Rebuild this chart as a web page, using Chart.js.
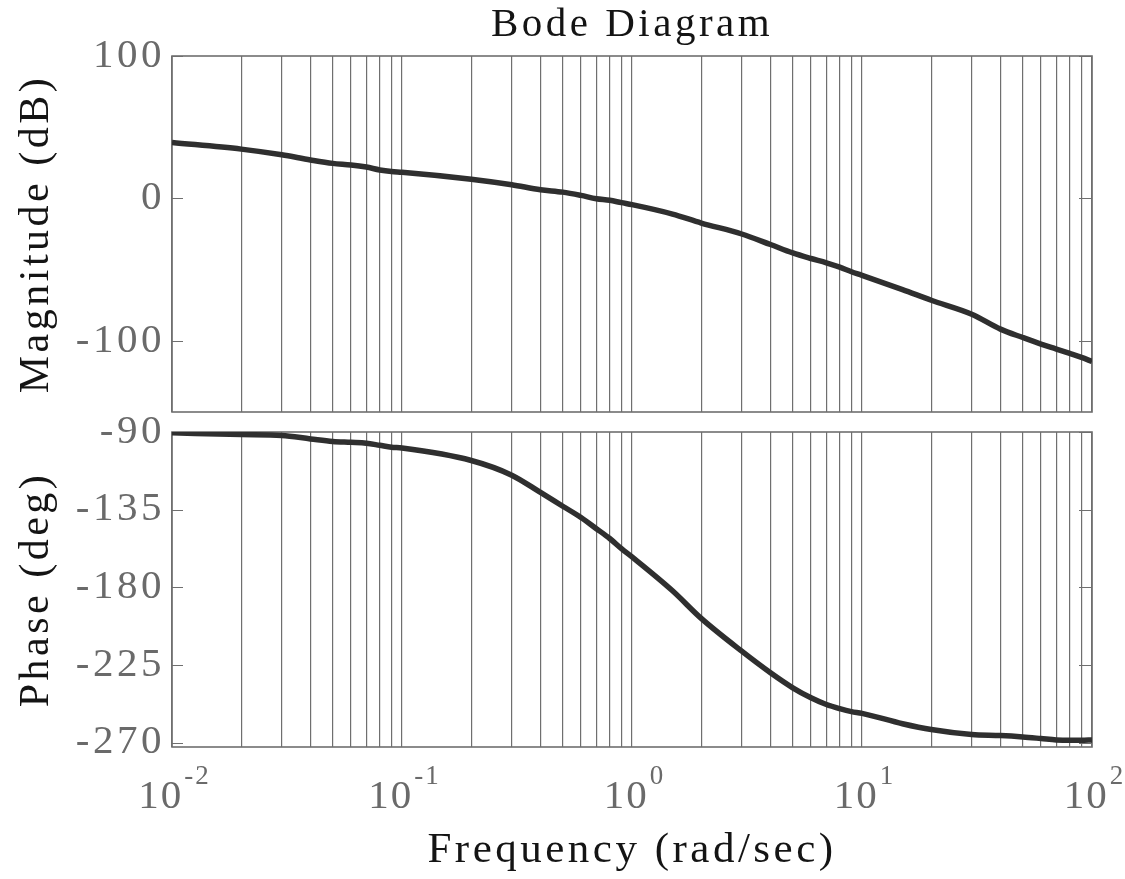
<!DOCTYPE html>
<html><head><meta charset="utf-8">
<script src="https://cdn.jsdelivr.net/npm/chart.js@4.4.1/dist/chart.umd.min.js"></script>
<style>
html,body{margin:0;padding:0;background:#fff;}
#wrap{position:relative;width:1125px;height:879px;background:#fff;}
canvas{position:absolute;left:0;top:0;}
</style></head><body>
<div id="wrap"><canvas id="mag" width="1125" height="879"></canvas><canvas id="phase" width="1125" height="879"></canvas></div>
<script>
// ---- data ----
const frequencies = [0.01,0.02,0.03,0.04,0.05,0.06,0.07,0.08,0.09,
  0.1,0.2,0.3,0.4,0.5,0.6,0.7,0.8,0.9,
  1,1.5,2,3,4,5,6,7,8,9,
  10,15,20,30,40,50,60,70,80,90,100];
const magnitudeDb = [39.3,34.6,30.6,27,24.6,23.5,22,20,18.9,
  18.4,13.5,9.6,6.1,4.4,2.1,-0.2,-1.3,-3,
  -4.4,-11,-17.3,-25,-32.4,-38.3,-42.2,-45.2,-48.3,-51.5,
  -54,-64,-71.5,-81.3,-91.8,-97.7,-102.3,-105.8,-108.9,-111.7,-114.5];
const phaseDeg = [-90.5,-91.5,-92,-94,-95.5,-96,-96.5,-97.7,-98.8,
  -99.3,-106.5,-115,-125,-133,-139.5,-146,-151.7,-157.6,
  -162.4,-182,-198,-217,-229.5,-238.2,-244,-247.9,-250.3,-252,
  -253,-259,-262.4,-265.3,-265.9,-266.7,-267.6,-268.4,-268.6,-268.6,-268.4];
const gridFrequencies = [0.01,0.02,0.03,0.04,0.05,0.06,0.07,0.08,0.09,
  0.1,0.2,0.3,0.4,0.5,0.6,0.7,0.8,0.9,
  1,2,3,4,5,6,7,8,9,
  10,20,30,40,50,60,70,80,90,100];
const decadeTicks = [0.01,0.1,1,10,100];
const decadeExponents = ['-2','-1','0','1','2'];
const magnitudeTicks = [100,0,-100];
const phaseTicks = [-90,-135,-180,-225,-270];

// ---- styling ----
const SERIF = '"Liberation Serif","Times New Roman",serif';
const GRID = '#6f6f6f';
const TICKTXT = '#6a6a6a';
const DARK = '#141414';
const SPACING = '3.5px';

const framePlugin = {
  id: 'frame',
  beforeLayout(chart){ chart.ctx.letterSpacing = SPACING; },
  beforeDraw(chart){ chart.ctx.letterSpacing = SPACING; },
  beforeDatasetsDraw(chart){
    const {ctx, chartArea:a} = chart;
    const ys = chart.scales.y;
    ctx.save();
    ctx.strokeStyle = GRID;
    ctx.lineWidth = 1.2;
    ys.ticks.forEach(t => {
      const py = Math.round(ys.getPixelForValue(t.value)) + 0.5;
      ctx.beginPath();
      ctx.moveTo(a.left, py); ctx.lineTo(a.left + 11, py);
      ctx.moveTo(a.right - 13, py); ctx.lineTo(a.right, py);
      ctx.stroke();
    });
    ctx.lineWidth = 1.6;
    ctx.strokeRect(a.left, a.top, a.right - a.left, a.bottom - a.top);
    ctx.restore();
  },
  afterDraw(chart, args, opts){
    if (!opts.xLabels) return;
    const ctx = chart.ctx, sx = chart.scales.x, a = chart.chartArea;
    ctx.save();
    ctx.fillStyle = TICKTXT;
    ctx.textBaseline = 'alphabetic';
    ctx.textAlign = 'left';
    ctx.letterSpacing = '2px';
    decadeTicks.forEach((v, i) => {
      const px = sx.getPixelForValue(v);
      ctx.font = '41px ' + SERIF;
      const wb = ctx.measureText('10').width;
      ctx.font = '27px ' + SERIF;
      const we = ctx.measureText(decadeExponents[i]).width;
      const x0 = px - (wb + we) / 2 + 2;
      ctx.font = '41px ' + SERIF;
      ctx.fillText('10', x0, a.bottom + 61);
      ctx.font = '27px ' + SERIF;
      ctx.fillText(decadeExponents[i], x0 + wb + 1, a.bottom + 37);
    });
    ctx.restore();
  }
};

function xScale(withTitle){
  return {
    type: 'logarithmic', min: 0.01, max: 100,
    afterBuildTicks: s => { s.ticks = gridFrequencies.map(v => ({value: v})); },
    ticks: {display: false},
    grid: {color: GRID, lineWidth: 1.2, drawTicks: false},
    border: {display: false},
    title: withTitle ? {display: true, text: 'Frequency (rad/sec)', color: DARK,
      font: {family: SERIF, size: 43, lineHeight: 1}, padding: {top: 82, bottom: 7}} : {display: false}
  };
}
function yScale(min, max, tickList, label){
  return {
    type: 'linear', min: min, max: max,
    afterBuildTicks: s => { s.ticks = tickList.map(v => ({value: v})); },
    afterFit: s => { s.width = 172; },
    ticks: {color: TICKTXT, font: {family: SERIF, size: 41, lineHeight: 1}, padding: 7},
    grid: {display: false, drawTicks: false},
    border: {display: false},
    title: {display: true, text: label, color: DARK,
      font: {family: SERIF, size: 42, lineHeight: 1}, padding: {top: 16, bottom: 0}}
  };
}
function lineDataset(values){
  return {
    data: frequencies.map((f, i) => ({x: f, y: values[i]})),
    borderColor: '#2f2f2f', borderWidth: 5.5, pointRadius: 0,
    cubicInterpolationMode: 'monotone', fill: false
  };
}

new Chart(document.getElementById('mag'), {
  type: 'line',
  data: {datasets: [lineDataset(magnitudeDb)]},
  options: {
    responsive: false, animation: false, events: [],
    layout: {padding: {top: 0, left: 0, right: 33, bottom: 467}},
    scales: {x: xScale(false), y: yScale(-150, 100, magnitudeTicks, 'Magnitude (dB)')},
    plugins: {
      legend: {display: false}, tooltip: {enabled: false},
      title: {display: true, text: 'Bode Diagram', fullSize: false, color: DARK,
        font: {family: SERIF, size: 41, lineHeight: 1, weight: 'normal'}, padding: {top: 5, bottom: 10}},
      frame: {xLabels: false}
    }
  },
  plugins: [framePlugin]
});

new Chart(document.getElementById('phase'), {
  type: 'line',
  data: {datasets: [lineDataset(phaseDeg)]},
  options: {
    responsive: false, animation: false, events: [],
    layout: {padding: {top: 432, left: 0, right: 33, bottom: 0}},
    scales: {x: xScale(true), y: yScale(-272.5, -90, phaseTicks, 'Phase (deg)')},
    plugins: {
      legend: {display: false}, tooltip: {enabled: false},
      frame: {xLabels: true}
    }
  },
  plugins: [framePlugin]
});
</script>
</body></html>
